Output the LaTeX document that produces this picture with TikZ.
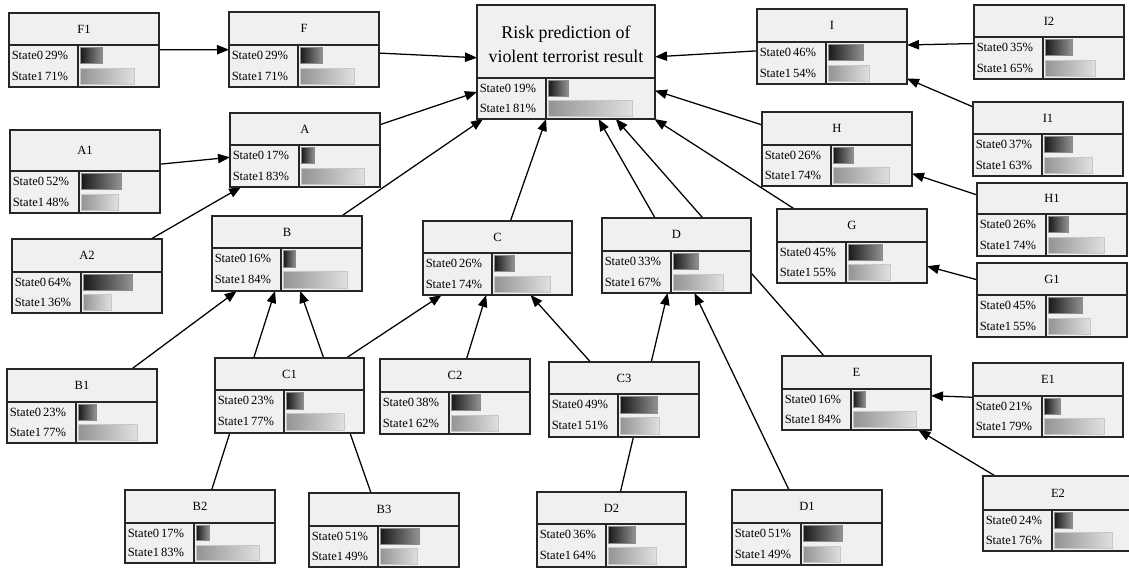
\documentclass[tikz,border=0pt]{standalone}
\usepackage{fontspec}
\setmainfont{Liberation Serif}
\usetikzlibrary{arrows.meta,backgrounds}
\tikzset{
  bnbox/.style={draw=black!85, fill=black!6, line width=0.95pt, inner sep=0pt, outer sep=0pt},
  bnline/.style={draw=black!85, line width=0.95pt},
  bntitle/.style={inner sep=0pt, font=\fontsize{9.4}{11}\selectfont},
  risktitle/.style={inner sep=0pt, align=center, yshift=-2.2pt, font=\fontsize{13.4}{18}\selectfont},
  bntitlecur/.style={bntitle},
  bnstate/.style={inner sep=0pt, font=\fontsize{9.4}{11}\selectfont},
  bar0/.style={left color=black!90, right color=black!42, draw=black!45, line width=0.4pt},
  bar1/.style={left color=black!42, right color=black!12, draw=black!22, line width=0.4pt},
  conn/.style={draw=black, line width=0.95pt, -{Triangle[length=9pt,width=7pt]}},
}
\newcommand\bnnode[9]{%
  \pgfmathsetmacro\bnW{#4-#2}%
  \pgfmathsetmacro\bnH{#5-#3}%
  \node[bnbox, minimum width=\bnW*0.75pt, minimum height=\bnH*0.75pt, anchor=north west] (#1) at (#2,#3) {};
  \pgfmathsetmacro\bnC{#2+69}%
  \pgfmathsetmacro\bnB{#5-#6}%
  \pgfmathsetmacro\bnS{(#4-\bnC-5)/100}%
  \draw[bnline] (#2,#6) -- (#4,#6) (\bnC,#6) -- (\bnC,#5);
  \node[bntitlecur] (#1-t) at ({(#2+#4)/2},{(#3+#6)/2}) {#7};
  \node[bnstate, anchor=west] (#1-s0) at (#2+2.5,{#6+0.25*\bnB}) {State0\,#8\%};
  \node[bnstate, anchor=west] (#1-s1) at (#2+2.5,{#6+0.74*\bnB}) {State1\,#9\%};
  \path[bar0] (\bnC+2.5,{#6+0.06*\bnB}) rectangle ({\bnC+2.5+#8*\bnS},{#6+0.44*\bnB});
  \path[bar1] (\bnC+2.5,{#6+0.55*\bnB}) rectangle ({\bnC+2.5+#9*\bnS},{#6+0.94*\bnB});
}
\begin{document}
\begin{tikzpicture}[x=0.75pt,y=-0.75pt]
\useasboundingbox (0,0) rectangle (1129,568);
\begin{pgfonlayer}{background}
  \fill[white] (0,0) rectangle (1129,568);
\end{pgfonlayer}

\tikzset{bntitlecur/.style={risktitle}}
\bnnode{R}{477}{5}{655}{119}{78}{Risk prediction of\\violent terrorist result}{19}{81}
\tikzset{bntitlecur/.style={bntitle}}

\bnnode{F1}{9}{13}{159}{87}{45}{F1}{29}{71}
\bnnode{F}{229}{12}{379}{87}{45}{F}{29}{71}
\bnnode{I}{757}{9}{907}{84}{42}{I}{46}{54}
\bnnode{I2}{974}{5}{1124}{79}{37}{I2}{35}{65}
\bnnode{I1}{973}{102}{1123}{176}{134}{I1}{37}{63}
\bnnode{H}{762}{112}{912}{186}{145}{H}{26}{74}
\bnnode{H1}{977}{183}{1127}{256}{214}{H1}{26}{74}
\bnnode{G}{777}{209}{927}{283}{242}{G}{45}{55}
\bnnode{G1}{977}{263}{1127}{337}{295}{G1}{45}{55}
\bnnode{E}{782}{356}{931}{430}{389}{E}{16}{84}
\bnnode{E1}{973}{363}{1123}{437}{396}{E1}{21}{79}
\bnnode{E2}{983}{476}{1133}{551}{510}{E2}{24}{76}
\bnnode{D1}{732}{490}{882}{565}{523}{D1}{51}{49}
\bnnode{D2}{537}{492}{686}{567}{524}{D2}{36}{64}
\bnnode{C3}{549}{362}{699}{437}{394}{C3}{49}{51}
\bnnode{C2}{380}{359}{530}{434}{392}{C2}{38}{62}
\bnnode{C1}{215}{358}{364}{433}{390}{C1}{23}{77}
\bnnode{B1}{7}{369}{157}{443}{402}{B1}{23}{77}
\bnnode{B2}{125}{490}{275}{563}{523}{B2}{17}{83}
\bnnode{B3}{309}{493}{459}{567}{526}{B3}{51}{49}
\bnnode{B}{212}{216}{362}{291}{248}{B}{16}{84}
\bnnode{A}{230}{113}{380}{187}{145}{A}{17}{83}
\bnnode{A1}{10}{130}{160}{213}{171}{A1}{52}{48}
\bnnode{A2}{12}{239}{162}{313}{272}{A2}{64}{36}
\bnnode{C}{423}{221}{572}{295}{253}{C}{26}{74}
\bnnode{D}{602}{218}{751}{293}{251}{D}{33}{67}

\begin{pgfonlayer}{background}
  \draw[conn] (F1) -- (F);
  \draw[conn] (F) -- (R);
  \draw[conn] (A1) -- (A);
  \draw[conn] (A2) -- (A);
  \draw[conn] (A) -- (R);
  \draw[conn] (B) -- (R);
  \draw[conn] (C) -- (R);
  \draw[conn] (D) -- (R);
  \draw[conn] (E) -- (R);
  \draw[conn] (I) -- (R);
  \draw[conn] (H) -- (R);
  \draw[conn] (G) -- (R);
  \draw[conn] (I2) -- (I);
  \draw[conn] (I1) -- (I);
  \draw[conn] (H1) -- (H);
  \draw[conn] (G1) -- (G);
  \draw[conn] (E1) -- (E);
  \draw[conn] (E2) -- (E);
  \draw[conn] (D1) -- (D);
  \draw[conn] (D2) -- (D);
  \draw[conn] (C3) -- (C);
  \draw[conn] (C2) -- (C);
  \draw[conn] (C1) -- (C);
  \draw[conn] (B2) -- (B);
  \draw[conn] (B3) -- (B);
  \draw[conn] (B1) -- (B);
\end{pgfonlayer}
\end{tikzpicture}
\end{document}
